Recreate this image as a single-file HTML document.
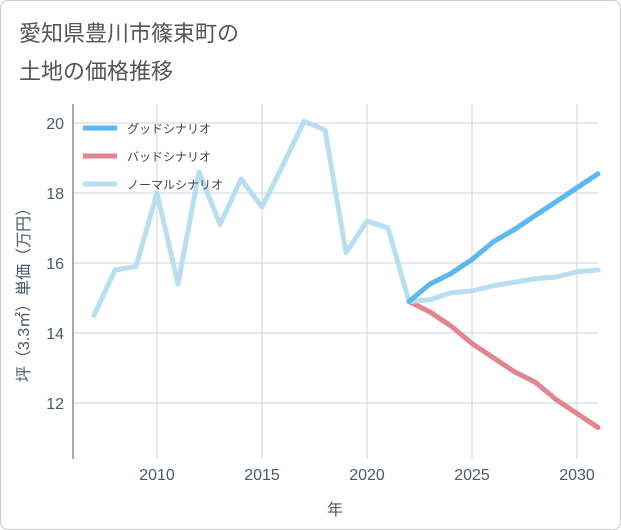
<!DOCTYPE html>
<html><head><meta charset="utf-8"><style>
body{margin:0;background:#fff;font-family:"Liberation Sans","Noto Sans CJK JP",sans-serif;}
#wrap{position:relative;width:619px;height:528px;border:1px solid #ccc;border-radius:8px;overflow:hidden;background:#fff}
</style></head><body>
<div id="wrap">
<svg id="chart" width="621" height="530">
<text x="18" y="40" font-size="22" fill="#555" font-family="Liberation Sans,Noto Sans CJK JP,sans-serif">愛知県豊川市篠束町の</text>
<text x="18" y="78" font-size="22" fill="#555" font-family="Liberation Sans,Noto Sans CJK JP,sans-serif">土地の価格推移</text>
<g id="grid"></g><g id="axes"></g><g id="series"></g><g id="legend"></g>
</svg></div>
<script>
const years=[2007,2008,2009,2010,2011,2012,2013,2014,2015,2016,2017,2018,2019,2020,2021,2022];
const hist=[14.5,15.8,15.9,18.0,15.4,18.6,17.1,18.4,17.6,18.8,20.05,19.8,16.3,17.2,17.0,14.9];
const fYears=[2022,2023,2024,2025,2026,2027,2028,2029,2030,2031];
const good=[14.9,15.4,15.7,16.1,16.6,16.95,17.35,17.75,18.15,18.55];
const bad=[14.9,14.6,14.2,13.7,13.3,12.9,12.6,12.1,11.7,11.3];
const normal=[14.9,14.95,15.15,15.2,15.35,15.45,15.55,15.6,15.75,15.8];
const xTicks=[2010,2015,2020,2025,2030];
const yTicks=[12,14,16,18,20];
const L=72,R=597,T=103,B=458;
const X=y=>156+(y-2010)*21, Y=v=>122+(20-v)*35;
const NS='http://www.w3.org/2000/svg';
function mk(tag,attrs,parent){const e=document.createElementNS(NS,tag);for(const k in attrs)e.setAttribute(k,attrs[k]);parent.appendChild(e);return e;}
const grid=document.getElementById('grid'),axes=document.getElementById('axes'),ser=document.getElementById('series'),leg=document.getElementById('legend');
const bg=mk('rect',{x:L,y:T,width:R-L,height:B-T,fill:'#fff'},grid);


xTicks.forEach(t=>{const l=mk('line',{x1:X(t),x2:X(t),y1:T,y2:B,stroke:'#c8d6e0','stroke-width':1},grid);


const tx=mk('text',{x:X(t),y:479,'text-anchor':'middle','font-size':16,fill:'#4a5a6a'},axes);tx.textContent=t;

});
yTicks.forEach(t=>{const l=mk('line',{x1:L,x2:R,y1:Y(t),y2:Y(t),stroke:'#c8d6e0','stroke-width':1},grid);


const tx=mk('text',{x:63,y:Y(t)+6,'text-anchor':'end','font-size':16,fill:'#4a5a6a'},axes);tx.textContent=t;

});
const ax=mk('line',{x1:L,x2:L,y1:T,y2:B,stroke:'#555','stroke-width':1},axes);


const xt=mk('text',{x:334,y:514,'text-anchor':'middle','font-size':16,fill:'#4a5a6a'},axes);xt.textContent='年';


const yt=mk('text',{x:0,y:0,'text-anchor':'middle','font-size':16,fill:'#4a5a6a',transform:'translate(28,290) rotate(-90)'},axes);yt.textContent='坪（3.3㎡）単価（万円）';


function line(xs,vs,color,name){const p=mk('polyline',{points:xs.map((x,i)=>X(x)+','+Y(vs[i])).join(' '),fill:'none',stroke:color,'stroke-width':5,'stroke-linejoin':'round','stroke-linecap':'round'},ser);

}
line(years,hist,'#b8dff0','historical-line');
line(fYears,bad,'#e0868e','bad-scenario-line');
line(fYears,normal,'#b8dff0','normal-scenario-line');
line(fYears,good,'#5bb8f0','good-scenario-line');
[['グッドシナリオ','#5bb8f0',127],['バッドシナリオ','#e0868e',155],['ノーマルシナリオ','#b8dff0',183]].forEach(([t,c,y])=>{
const g=mk('g',{},leg);


mk('line',{x1:82,x2:116,y1:y,y2:y,stroke:c,'stroke-width':5},g);
const tx=mk('text',{x:126,y:y+5,'font-size':12,fill:'#444'},g);tx.textContent=t;});
</script></body></html>
